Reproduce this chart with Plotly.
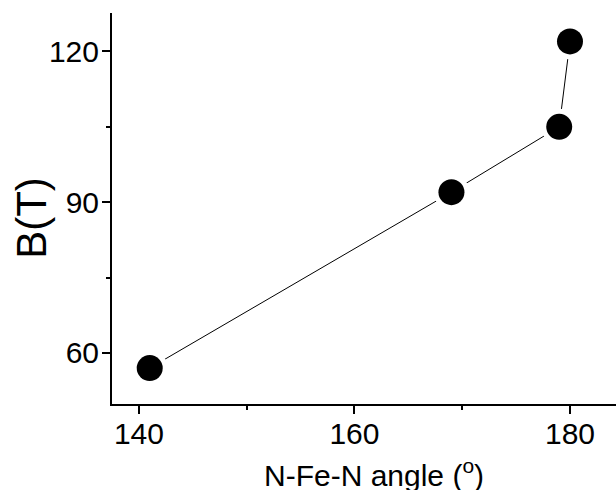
import plotly.graph_objects as go

# N-Fe-N bond angle (degrees) and hyperfine field B (tesla)
angle = [141, 169, 179, 180]
field = [57, 92, 105, 122]

x_ticks = [140, 160, 180]
y_ticks = [60, 90, 120]

FONT = "Arial, Liberation Sans, sans-serif"

fig = go.Figure()

# connecting line
fig.add_trace(go.Scatter(
    x=angle, y=field, mode="lines",
    line=dict(color="black", width=1),
    hoverinfo="skip", showlegend=False,
))
# white halo so the line stops short of each symbol
fig.add_trace(go.Scatter(
    x=angle, y=field, mode="markers",
    marker=dict(color="white", size=36, line=dict(width=0)),
    hoverinfo="skip", showlegend=False,
))
# filled circles
fig.add_trace(go.Scatter(
    x=angle, y=field, mode="markers",
    marker=dict(color="black", size=26, line=dict(width=0)),
    showlegend=False,
))

axis_common = dict(
    showgrid=False, zeroline=False,
    showline=True, linecolor="black", linewidth=2,
    ticks="outside", ticklen=8, tickwidth=2, tickcolor="black",
    tickfont=dict(family=FONT, size=30, color="black"),
)

fig.update_xaxes(
    range=[137.5, 184.27],
    tickvals=x_ticks, ticktext=[str(v) for v in x_ticks],
    minor=dict(dtick=10, tick0=0, ticks="outside", ticklen=4, tickwidth=2, tickcolor="black"),
    ticklabelstandoff=-6,
    **axis_common,
)
fig.update_yaxes(
    range=[49.85, 127.65],
    tickvals=y_ticks, ticktext=[str(v) for v in y_ticks],
    minor=dict(dtick=15, tick0=0, ticks="outside", ticklen=4, tickwidth=2, tickcolor="black"),
    ticklabelstandoff=-3,
    **axis_common,
)

fig.add_annotation(
    text="N-Fe-N angle (<sup>o</sup>)",
    xref="paper", yref="paper", x=0.52, y=0,
    xanchor="center", yanchor="top", yshift=-48,
    showarrow=False,
    font=dict(family=FONT, size=30, color="black"),
)
fig.add_annotation(
    text="B(T)",
    xref="paper", yref="paper", x=-0.16, y=0.477,
    xanchor="center", yanchor="middle", textangle=-90,
    showarrow=False,
    font=dict(family=FONT, size=42, color="black"),
)

fig.update_layout(
    width=616, height=490,
    margin=dict(l=112, r=0, t=13, b=86),
    paper_bgcolor="white", plot_bgcolor="white",
)

fig.write_html("out.html")
